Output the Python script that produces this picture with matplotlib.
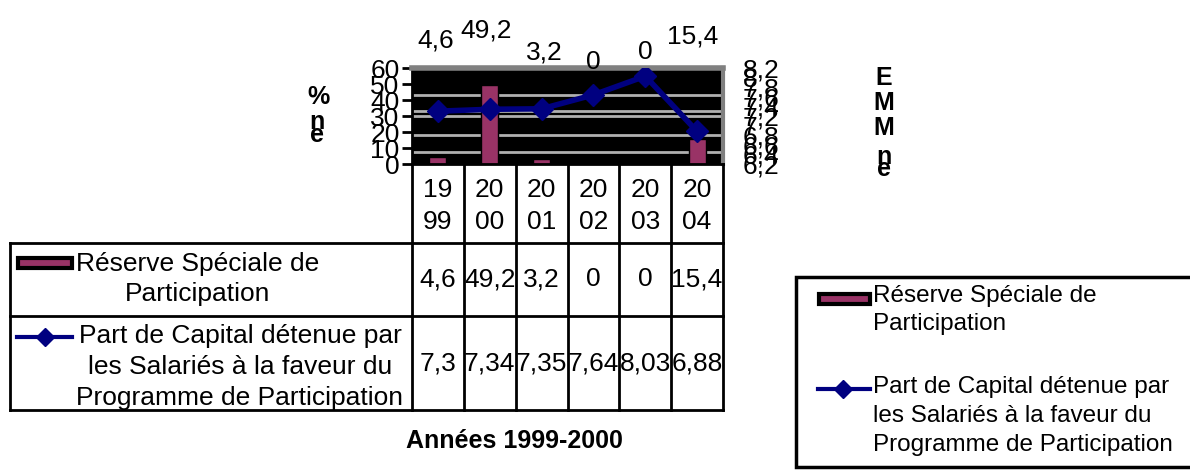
import matplotlib
matplotlib.use("Agg")
import matplotlib.pyplot as plt
from matplotlib.patches import Rectangle
import numpy as np

plt.rcParams["font.family"] = ["Liberation Sans", "DejaVu Sans"]

years = ["1999", "2000", "2001", "2002", "2003", "2004"]
reserve = [4.6, 49.2, 3.2, 0, 0, 15.4]
part_capital = [7.3, 7.34, 7.35, 7.64, 8.03, 6.88]
bar_name = "Réserve Spéciale de\nParticipation"
line_name = "Part de Capital détenue par\nles Salariés à la faveur du\nProgramme de Participation"
xlabel = "Années 1999-2000"

BAR_COLOR = "#993366"
LINE_COLOR = "#000080"
FS = 19
BFS = 18


def fr(v):
    return f"{v:g}".replace(".", ",")


W, H = 1190, 474
fig = plt.figure(figsize=(W / 100, H / 100), dpi=100)

# plot area in pixels
px_l, px_r, px_t, px_b = 412, 723, 68, 164
ax = fig.add_axes([px_l / W, 1 - px_b / H, (px_r - px_l) / W, (px_b - px_t) / H])
ax.set_facecolor("black")
x = np.arange(len(years))
ax.set_xlim(-0.5, len(years) - 0.5)
ax.set_ylim(0, 60)
ax.set_yticks(range(0, 61, 10))
ax.set_yticklabels([str(v) for v in range(0, 61, 10)], fontsize=FS)
ax.set_xticks([])
ax.tick_params(axis="y", length=7, width=2, pad=2)
for yv in [7.5, 18, 30, 33, 43]:
    ax.axhline(yv, color="#b0b0b0", lw=2, zorder=1)
ax.bar(x, reserve, width=0.33, color=BAR_COLOR, edgecolor="black", lw=1, zorder=2)
ax.spines["top"].set_color("#808080")
ax.spines["top"].set_linewidth(4)
ax.spines["right"].set_color("#808080")
ax.spines["right"].set_linewidth(3)
ax.spines["left"].set_linewidth(2)
ax.spines["bottom"].set_linewidth(2)

ax2 = ax.twinx()
ax2.set_ylim(6.2, 8.2)
rt = np.round(np.arange(6.2, 8.21, 0.2), 1)
ax2.set_yticks(rt)
ax2.set_yticklabels([fr(v) for v in rt], fontsize=FS)
ax2.tick_params(axis="y", length=0, pad=14)
ax2.plot(x, part_capital, color=LINE_COLOR, lw=4, marker="D", ms=11, zorder=3)
for s in ax2.spines.values():
    s.set_visible(False)

# overlay in pixel coordinates for table, labels and legend
ov = fig.add_axes([0, 0, 1, 1], facecolor="none")
ov.set_xlim(0, W)
ov.set_ylim(H, 0)
ov.axis("off")

colw = (px_r - px_l) / len(years)
centers = [px_l + colw * (i + 0.5) for i in range(len(years))]

# data labels above plot
label_y = [40, 30, 52, 62, 52, 36]
label_dx = [-2, -4, 3, 0, 0, -4]
for c, v, ly, dx in zip(centers, reserve, label_y, label_dx):
    ov.text(c + dx, ly, fr(v), ha="center", va="center", fontsize=FS)

# table
lw = 2
row1, row2, row3 = 243, 316, 410
tl = 10
for i in range(len(years) + 1):
    xx = px_l + colw * i
    ov.plot([xx, xx], [px_b, row3], color="black", lw=lw)
ov.plot([tl, tl], [row1, row3], color="black", lw=lw)
for yy in [row1, row2, row3]:
    ov.plot([tl, px_r], [yy, yy], color="black", lw=lw)
for c, yr in zip(centers, years):
    ov.text(c, 206, yr[:2] + "\n" + yr[2:], ha="center", va="center",
            fontsize=FS, linespacing=1.45)
for c, v in zip(centers, reserve):
    ov.text(c, (row1 + row2) / 2, fr(v), ha="center", va="center", fontsize=FS)
for c, v in zip(centers, part_capital):
    ov.text(c, (row2 + row3) / 2, fr(v), ha="center", va="center", fontsize=FS)

# legend keys inside table
ov.add_patch(Rectangle((18, 258), 54, 10, facecolor=BAR_COLOR, edgecolor="black", lw=3))
ov.text(198, 279, bar_name, ha="center", va="center", fontsize=FS, linespacing=1.3)
ov.plot([17, 44.5, 72], [337, 337, 337], color=LINE_COLOR, lw=3, marker="D",
        markevery=[1], ms=9)
ov.text(240, 367, line_name, ha="center", va="center", fontsize=FS, linespacing=1.35)

# axis titles
ov.text(514, 441, xlabel, ha="center", va="center", fontsize=BFS, fontweight="bold")
ov.text(319, 97, "%", ha="center", va="center", fontsize=BFS, fontweight="bold")
ov.text(317, 122, "n", ha="center", va="center", fontsize=BFS, fontweight="bold")
ov.text(317, 135, "e", ha="center", va="center", fontsize=BFS, fontweight="bold")
for ch, yy in zip(["E", "M", "M", "n", "e"], [78, 103, 128, 157, 169]):
    ov.text(884, yy, ch, ha="center", va="center", fontsize=BFS, fontweight="bold")

# legend box on the right
ov.add_patch(Rectangle((796, 277), 420, 190, facecolor="white", edgecolor="black", lw=2.5))
ov.add_patch(Rectangle((819, 294), 51, 10, facecolor=BAR_COLOR, edgecolor="black", lw=3))
ov.text(873, 310, bar_name, ha="left", va="center", fontsize=17.5, linespacing=1.4)
ov.plot([818, 843, 870], [389, 389, 389], color=LINE_COLOR, lw=3, marker="D",
        markevery=[1], ms=9)
ov.text(873, 416, line_name, ha="left", va="center", fontsize=17.5, linespacing=1.4)

fig.savefig("out.png", dpi=100)
